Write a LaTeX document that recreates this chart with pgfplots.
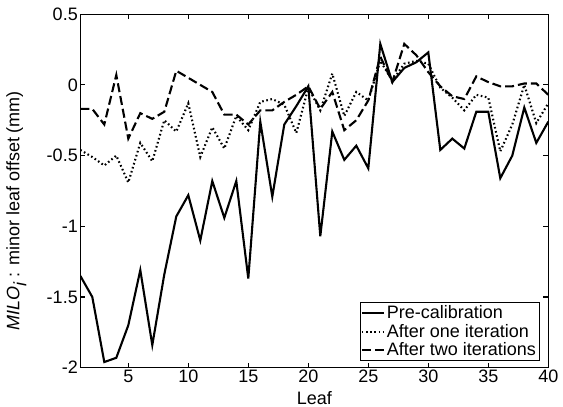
\documentclass[border=0pt]{standalone}
\usepackage{fontspec}
\setmainfont{Liberation Sans}
\usepackage{pgfplots}
\pgfplotsset{compat=1.18}
\usetikzlibrary{calc}

\pgfplotstableread{
leaf pre one two
1  -1.35 -0.46 -0.17
2  -1.50 -0.51 -0.17
3  -1.96 -0.57 -0.28
4  -1.93 -0.50  0.07
5  -1.70 -0.69 -0.38
6  -1.31 -0.41 -0.20
7  -1.84 -0.54 -0.24
8  -1.34 -0.25 -0.19
9  -0.93 -0.33  0.10
10 -0.78 -0.13  0.05
11 -1.10 -0.51  0.00
12 -0.68 -0.30 -0.05
13 -0.94 -0.45 -0.21
14 -0.68 -0.22 -0.21
15 -1.37 -0.32 -0.28
16 -0.26 -0.12 -0.18
17 -0.79 -0.10 -0.18
18 -0.28 -0.14 -0.12
19 -0.15 -0.34 -0.07
20 -0.01 -0.02 -0.01
21 -1.07 -0.18 -0.17
22 -0.33  0.08 -0.05
23 -0.53 -0.22 -0.32
24 -0.43 -0.05 -0.25
25 -0.59 -0.11 -0.11
26  0.29  0.17  0.20
27  0.02  0.03  0.02
28  0.12  0.15  0.29
29  0.16  0.17  0.21
30  0.23  0.15  0.09
31 -0.46 -0.02 -0.01
32 -0.38 -0.09 -0.08
33 -0.45 -0.18 -0.10
34 -0.19 -0.07  0.06
35 -0.19 -0.09  0.02
36 -0.66 -0.47 -0.01
37 -0.50 -0.28 -0.01
38 -0.16  0.00  0.01
39 -0.41 -0.27  0.01
40 -0.26 -0.13 -0.07
}\milo

\begin{document}
\begin{tikzpicture}
\begin{axis}[
scale only axis,
width=468pt, height=353.5pt,
xmin=1, xmax=40, ymin=-2, ymax=0.5,
xtick={5,10,...,40},
ytick={-2,-1.5,-1,-0.5,0,0.5},
yticklabels={-2,-1.5,-1,-0.5,0,0.5},
tick align=inside,
major tick length=5pt,
axis line style={line width=1.2pt},
every tick/.style={line width=1.1pt, black},
tick label style={font=\fontsize{18}{20}\selectfont},
xticklabel style={yshift=1pt},
yticklabel style={xshift=1pt},
/pgf/number format/assume math mode=true,
every axis x label/.style={at={(rel axis cs:0.5,0)}, yshift=-30pt, anchor=center,
  font=\fontsize{18}{20}\selectfont},
every axis y label/.style={at={(rel axis cs:0,0.5)}, xshift=-64pt, yshift=-20pt, rotate=90, anchor=center,
  font=\fontsize{18}{20}\selectfont},
xlabel={Leaf},
ylabel={\textit{MILO}$_{\textit{i}}$ : minor leaf offset (mm)},
legend cell align=left,
legend style={
at={(1,0)}, anchor=south east,
xshift=-9pt, yshift=7pt,
draw=black, line width=0.6pt,
font=\fontsize{18}{20}\selectfont,
inner sep=1pt, row sep=0pt
},
legend image code/.code={\draw[#1, line width=2.1pt] (0pt,0pt) -- (22pt,0pt);},
]
\addplot[black, line width=2.1pt, line join=miter] table[x=leaf, y=pre] {\milo};
\addplot[black, line width=2.1pt, dash pattern=on 1.6pt off 2.6pt] table[x=leaf, y=one] {\milo};
\addplot[black, line width=2.1pt, dash pattern=on 9pt off 4pt] table[x=leaf, y=two] {\milo};
\legend{Pre-calibration, After one iteration, After two iterations}
\end{axis}
\pgfresetboundingbox
\path ($(current axis.south west)+(-80.3pt,-39.3pt)$) rectangle ($(current axis.north east)+(14.7pt,14.2pt)$);
\end{tikzpicture}
\end{document}
